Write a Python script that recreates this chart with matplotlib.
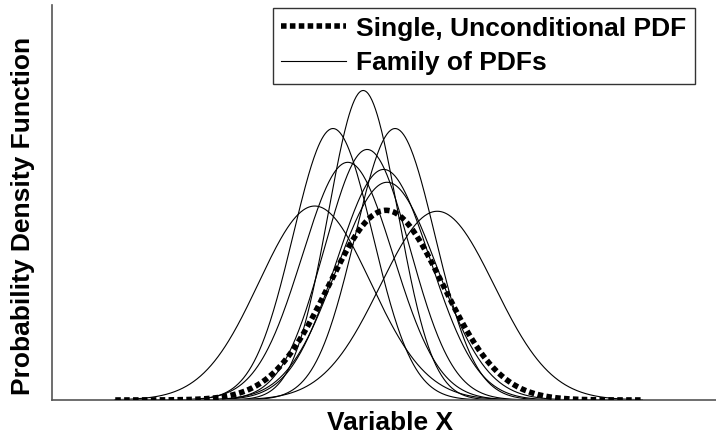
import numpy as np
import matplotlib
matplotlib.use("Agg")
import matplotlib.pyplot as plt

plt.rcParams['font.family'] = ['Liberation Sans', 'DejaVu Sans']

# family of conditional pdfs: centre, spread and peak density of each member
family_mean = [-0.40, -0.93, 0.16, -0.33, -0.67, -0.04, 0.02, -1.25, 0.90]
family_sd = [0.61, 0.70, 0.70, 0.75, 0.80, 0.82, 0.88, 0.98, 1.00]
family_peak = [0.651, 0.571, 0.571, 0.527, 0.500, 0.485, 0.458, 0.408, 0.397]

# single unconditional pdf
single_mean = 0.0
single_sd = 1.0
single_peak = 0.399

x = np.linspace(-4.75, 4.49, 600)

fig = plt.figure(figsize=(7.16, 4.36), dpi=100)
ax = fig.add_axes([0.0726, 0.0826, 0.9274, 0.905])

for i, (m, s, p) in enumerate(zip(family_mean, family_sd, family_peak)):
    ax.plot(x, p * np.exp(-0.5 * ((x - m) / s) ** 2), color='black', lw=0.8,
            label='Family of PDFs' if i == 0 else None)

ax.plot(x, single_peak * np.exp(-0.5 * ((x - single_mean) / single_sd) ** 2),
        color='black', lw=4.0, linestyle=(0, (1.0, 0.6)), dash_capstyle='butt',
        label='Single, Unconditional PDF', zorder=5)

ax.set_xlim(-5.86, 5.79)
ax.set_ylim(0, 0.83)
ax.set_xticks([])
ax.set_yticks([])
for side in ['top', 'right']:
    ax.spines[side].set_visible(False)
for side in ['left', 'bottom']:
    ax.spines[side].set_color('#555555')
    ax.spines[side].set_linewidth(1.2)

ax.set_xlabel('Variable X', fontsize=19, fontweight='bold')
ax.set_ylabel('Probability Density Function', fontsize=19, fontweight='bold')
ax.xaxis.set_label_coords(0.509, -0.028)
ax.yaxis.set_label_coords(-0.026, 0.466)

handles, labels = ax.get_legend_handles_labels()
leg = ax.legend(handles[::-1], labels[::-1], loc='upper right',
                bbox_to_anchor=(695 / 716, 1 - 8 / 436), bbox_transform=fig.transFigure,
                prop={'weight': 'bold', 'size': 19}, frameon=True, fancybox=False,
                edgecolor='black', borderaxespad=0, handlelength=2.45,
                handletextpad=0.38, labelspacing=0.4, borderpad=0.33)
leg.get_frame().set_linewidth(1.0)

fig.savefig('out.png', dpi=100)
